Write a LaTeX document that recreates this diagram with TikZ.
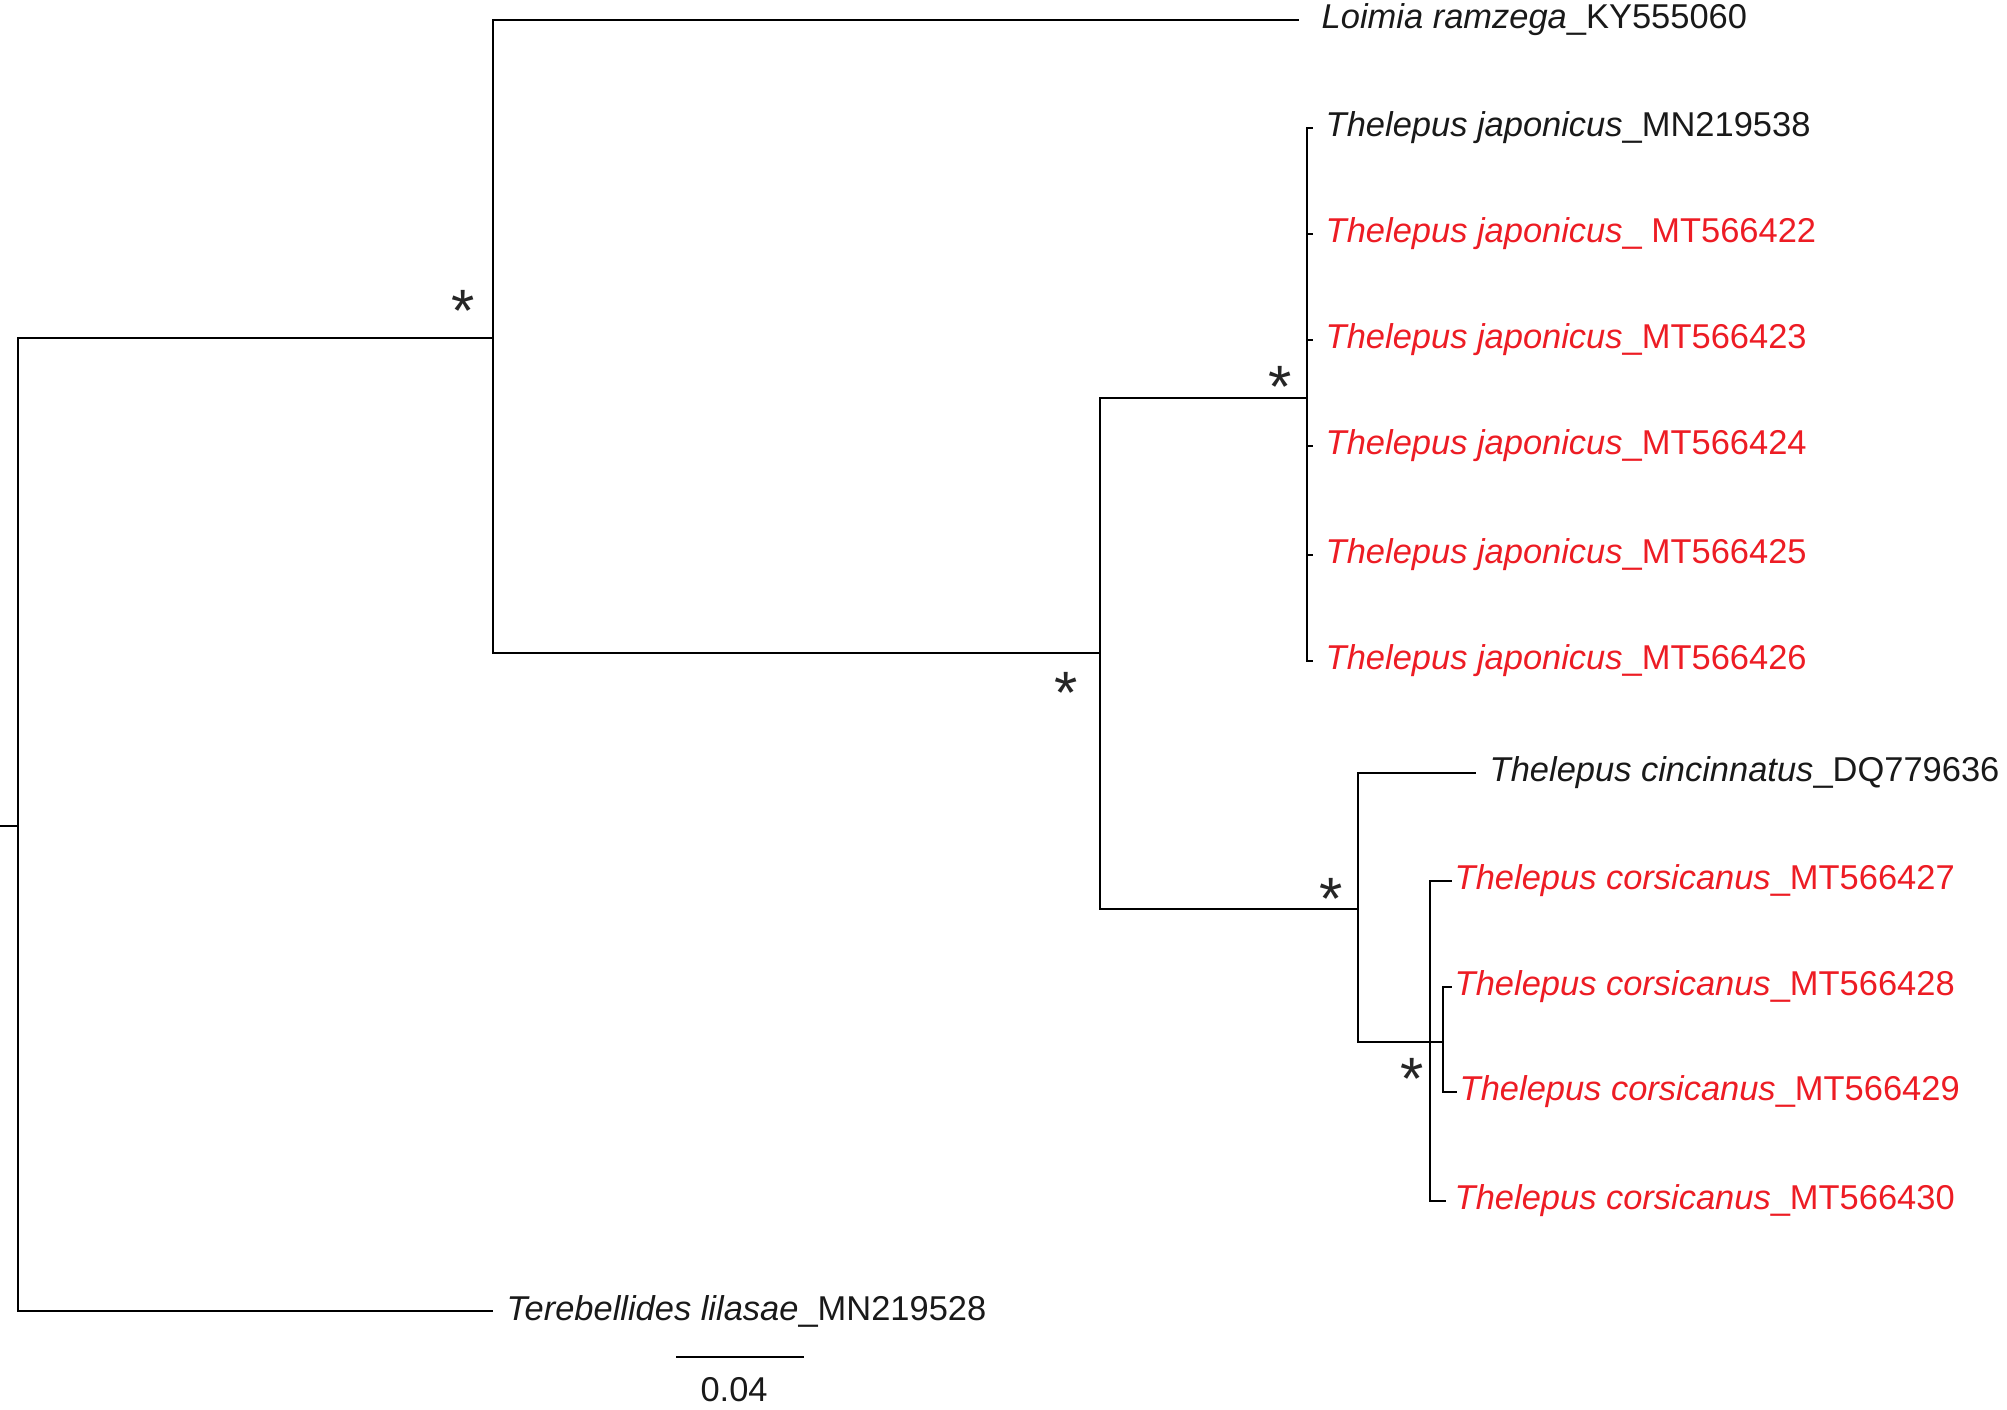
\documentclass[tikz,border=0pt]{standalone}
\usepackage{fontspec}
\setmainfont{Liberation Sans}
\usetikzlibrary{positioning}
\definecolor{tipred}{RGB}{237,28,36}
\tikzset{
  tree edge/.style={line width=0.65pt,draw=black},
  tip label/.style={anchor=west,inner sep=0pt,
    font=\fontsize{9.8}{12}\selectfont,text=black!90},
  red tip/.style={tip label,text=tipred},
  support mark/.style={inner sep=0pt,yshift=-2.2pt,
    font=\fontsize{17}{17}\selectfont,text=black!85},
  scale label/.style={inner sep=0pt,font=\fontsize{9.8}{12}\selectfont,
    text=black!90}
}

\begin{document}
\begin{tikzpicture}[x=0.01cm,y=-0.01cm]
    \useasboundingbox (0,0) rectangle (2007,1409);
    % internal nodes
    \coordinate (rootstub) at (0,826);
    \coordinate (root) at (18,826);
    \coordinate (ingroup) at (493,338);
    \coordinate (thelepus) at (1100,653);
    \coordinate (japonicus) at (1307,398);
    \coordinate (cincgroup) at (1358,909);
    \coordinate (corsicanus) at (1430,1042);
    \coordinate (corsinner) at (1443,1042);
    % tips
    \coordinate (loimia) at (1299,20);
    \coordinate (japone) at (1313,128);
    \coordinate (japtwo) at (1313,234);
    \coordinate (japthree) at (1313,340);
    \coordinate (japfour) at (1313,446);
    \coordinate (japfive) at (1313,555);
    \coordinate (japsix) at (1313,661);
    \coordinate (cincinnatus) at (1476,773);
    \coordinate (corsone) at (1452,881);
    \coordinate (corstwo) at (1452,987);
    \coordinate (corsthree) at (1457,1092);
    \coordinate (corsfour) at (1446,1201);
    \coordinate (terebellides) at (493,1311);
    \coordinate (barleft) at (676,1357);
    \coordinate (barright) at (804,1357);
    % branches
    \draw[tree edge] (rootstub) -- (root);
    \draw[tree edge] (root) |- (ingroup);
    \draw[tree edge] (root) |- (terebellides);
    \draw[tree edge] (ingroup) |- (loimia);
    \draw[tree edge] (ingroup) |- (thelepus);
    \draw[tree edge] (thelepus) |- (japonicus);
    \draw[tree edge] (thelepus) |- (cincgroup);
    \draw[tree edge] (japonicus) |- (japone);
    \draw[tree edge] (japonicus) |- (japtwo);
    \draw[tree edge] (japonicus) |- (japthree);
    \draw[tree edge] (japonicus) |- (japfour);
    \draw[tree edge] (japonicus) |- (japfive);
    \draw[tree edge] (japonicus) |- (japsix);
    \draw[tree edge] (cincgroup) |- (cincinnatus);
    \draw[tree edge] (cincgroup) |- (corsicanus);
    \draw[tree edge] (corsicanus) -- (corsinner);
    \draw[tree edge] (corsicanus) |- (corsone);
    \draw[tree edge] (corsicanus) |- (corsfour);
    \draw[tree edge] (corsinner) |- (corstwo);
    \draw[tree edge] (corsinner) |- (corsthree);
    \draw[tree edge] (barleft) -- (barright);
    % tip labels
    \node[tip label,right=0.22cm of loimia] (loimialabel)
      {\textit{Loimia ramzega}\_KY555060};
    \node[tip label,right=0.12cm of japone] (japonelabel)
      {\textit{Thelepus japonicus}\_MN219538};
    \node[red tip,right=0.12cm of japtwo] (japtwolabel)
      {\textit{Thelepus japonicus}\_ MT566422};
    \node[red tip,right=0.12cm of japthree] (japthreelabel)
      {\textit{Thelepus japonicus}\_MT566423};
    \node[red tip,right=0.12cm of japfour] (japfourlabel)
      {\textit{Thelepus japonicus}\_MT566424};
    \node[red tip,right=0.12cm of japfive] (japfivelabel)
      {\textit{Thelepus japonicus}\_MT566425};
    \node[red tip,right=0.12cm of japsix] (japsixlabel)
      {\textit{Thelepus japonicus}\_MT566426};
    \node[tip label,right=0.13cm of cincinnatus] (cinclabel)
      {\textit{Thelepus cincinnatus}\_DQ779636};
    \node[red tip,right=0.02cm of corsone] (corsonelabel)
      {\textit{Thelepus corsicanus}\_MT566427};
    \node[red tip,right=0.02cm of corstwo] (corstwolabel)
      {\textit{Thelepus corsicanus}\_MT566428};
    \node[red tip,right=0.02cm of corsthree] (corsthreelabel)
      {\textit{Thelepus corsicanus}\_MT566429};
    \node[red tip,right=0.08cm of corsfour] (corsfourlabel)
      {\textit{Thelepus corsicanus}\_MT566430};
    \node[tip label,right=0.13cm of terebellides] (terelabel)
      {\textit{Terebellides lilasae}\_MN219528};
    \node[scale label,below=0.2cm of barleft,xshift=0.58cm] (barlabel) {0.04};
    % support marks
    \node[support mark] (markingroup) at (463,303) {*};
    \node[support mark] (markthelepus) at (1066,685) {*};
    \node[support mark] (markjaponicus) at (1280,379) {*};
    \node[support mark] (markcinc) at (1331,891) {*};
    \node[support mark] (markcorsicanus) at (1412,1071) {*};
  \end{tikzpicture}
\end{document}
